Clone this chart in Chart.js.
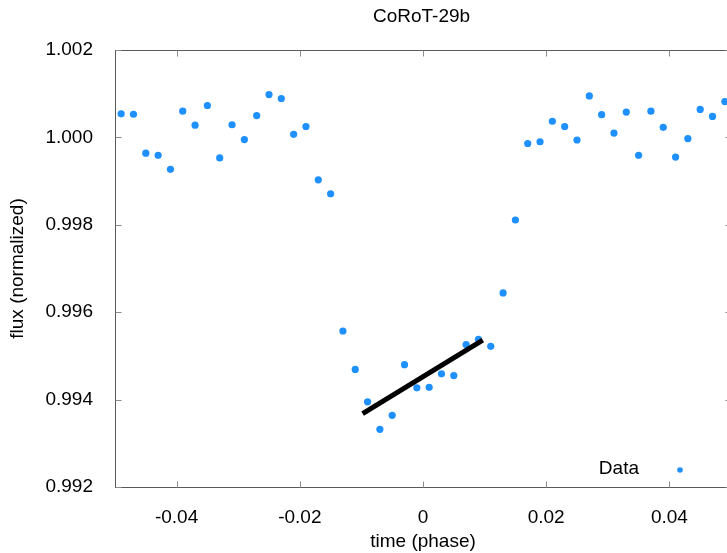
<!DOCTYPE html>
<html>
<head>
<meta charset="utf-8">
<script src="https://cdn.jsdelivr.net/npm/chart.js@4/dist/chart.umd.min.js"></script>
<style>
  html, body { margin: 0; padding: 0; background: #fff; overflow: hidden; }
  #wrap { width: 738px; height: 553px; }
</style>
</head>
<body>
<div id="wrap"><canvas id="transitChart"></canvas></div>
<script>
// light curve points
let phase = [-0.049, -0.047, -0.045, -0.043, -0.041, -0.039, -0.037, -0.035, -0.033, -0.031,
             -0.029, -0.027, -0.025, -0.023, -0.021, -0.019, -0.017, -0.015, -0.013, -0.011,
             -0.009, -0.007, -0.005, -0.003, -0.001, 0.001, 0.003, 0.005, 0.007, 0.009,
             0.011, 0.013, 0.015, 0.017, 0.019, 0.021, 0.023, 0.025, 0.027, 0.029,
             0.031, 0.033, 0.035, 0.037, 0.039, 0.041, 0.043, 0.045, 0.047, 0.049];
let flux = [1.00054, 1.00053, 0.99964, 0.99959, 0.99927, 1.00060, 1.00028, 1.00073, 0.99953, 1.00029,
            0.99995, 1.00050, 1.00098, 1.00089, 1.00007, 1.00025, 0.99903, 0.99871, 0.99557, 0.99469,
            0.99395, 0.99332, 0.99364, 0.99480, 0.99427, 0.99428, 0.99459, 0.99455, 0.99526, 0.99538,
            0.99522, 0.99644, 0.99811, 0.99986, 0.99990, 1.00037, 1.00025, 0.99994, 1.00095, 1.00052,
            1.00010, 1.00058, 0.99959, 1.00060, 1.00023, 0.99955, 0.99997, 1.00064, 1.00048, 1.00082];

// black fit segment across transit bottom
let fitPhase = [-0.0098, 0.0097];
let fitFlux = [0.99368, 0.99536];

// axis ticks
let xTicks = [-0.04, -0.02, 0, 0.02, 0.04];
let yTicks = [0.992, 0.994, 0.996, 0.998, 1.000, 1.002];

const FONT = 'Liberation Sans, Arial, sans-serif';
const BLUE = '#1e90ff';

// gnuplot-like frame: full border, inward ticks, title and key inside
const framePlugin = {
    id: 'frame',
    afterDraw(chart) {
        const ctx = chart.ctx;
        const a = chart.chartArea;
        const xs = chart.scales.x, ys = chart.scales.y;
        const L = Math.round(a.left) + 0.5, R = Math.round(a.right) + 0.5;
        const T = Math.round(a.top) + 0.5, B = Math.round(a.bottom) + 0.5;
        ctx.save();
        ctx.strokeStyle = '#5a5a5a';
        ctx.lineWidth = 1;
        ctx.strokeRect(L, T, R - L, B - T);
        ctx.strokeStyle = '#8a8a8a';
        ctx.beginPath();
        xTicks.forEach(v => {
            const px = Math.round(xs.getPixelForValue(v)) + 0.5;
            ctx.moveTo(px, B); ctx.lineTo(px, B - 6);
            ctx.moveTo(px, T); ctx.lineTo(px, T + 6);
        });
        yTicks.forEach(v => {
            const py = Math.round(ys.getPixelForValue(v)) + 0.5;
            ctx.moveTo(L, py); ctx.lineTo(L + 6, py);
            ctx.moveTo(R, py); ctx.lineTo(R - 6, py);
        });
        ctx.stroke();

        // title
        ctx.fillStyle = '#000';
        ctx.font = '19px ' + FONT;
        ctx.textAlign = 'center';
        ctx.textBaseline = 'middle';
        ctx.fillText('CoRoT-29b', 421.5, 17);

        // key
        ctx.textAlign = 'right';
        ctx.fillText('Data', a.right - 92, a.bottom - 18);
        ctx.fillStyle = BLUE;
        ctx.beginPath();
        ctx.arc(a.right - 51, a.bottom - 17, 2.8, 0, Math.PI * 2);
        ctx.fill();
        ctx.restore();
    }
};

let ctx = document.getElementById('transitChart').getContext('2d');
let myChart = new Chart(ctx, {
    type: 'scatter',
    data: {
        datasets: [{
            label: 'Data',
            data: phase.map((p, i) => ({ x: p, y: flux[i] })),
            backgroundColor: BLUE,
            borderWidth: 0,
            pointRadius: 3.6,
            order: 2
        }, {
            label: 'fit',
            data: fitPhase.map((p, i) => ({ x: p, y: fitFlux[i] })),
            showLine: true,
            borderColor: '#000',
            borderWidth: 5,
            borderCapStyle: 'butt',
            pointRadius: 0,
            order: 1
        }]
    },
    options: {
        responsive: true,
        maintainAspectRatio: false,
        animation: false,
        layout: { padding: { top: 50, right: 7, left: 0, bottom: 0 } },
        scales: {
            x: {
                type: 'linear',
                min: -0.05,
                max: 0.05,
                grid: { display: false },
                border: { display: false },
                afterBuildTicks: function (scale) {
                    scale.ticks = xTicks.map(v => ({ value: v }));
                },
                afterFit: function (scale) { scale.height = 66; },
                ticks: {
                    color: '#000',
                    padding: 11,
                    maxRotation: 0,
                    font: { size: 19, family: FONT },
                    callback: function (value) {
                        return value === 0 ? '0' : value.toFixed(2);
                    }
                },
                title: {
                    display: true,
                    text: 'time (phase)',
                    color: '#000',
                    padding: { top: 0, bottom: 0 },
                    font: { size: 19, family: FONT }
                }
            },
            y: {
                min: 0.992,
                max: 1.002,
                grid: { display: false },
                border: { display: false },
                afterBuildTicks: function (scale) {
                    scale.ticks = yTicks.map(v => ({ value: v }));
                },
                afterFit: function (scale) { scale.width = 115; },
                ticks: {
                    color: '#000',
                    padding: 14,
                    font: { size: 19, family: FONT },
                    callback: function (value) {
                        return value.toFixed(3);
                    }
                },
                title: {
                    display: true,
                    text: 'flux (normalized)',
                    color: '#000',
                    padding: { top: 6, bottom: 0 },
                    font: { size: 19, family: FONT }
                }
            }
        },
        plugins: {
            legend: { display: false },
            tooltip: { enabled: false },
            title: { display: false }
        }
    },
    plugins: [framePlugin]
});
</script>
</body>
</html>
